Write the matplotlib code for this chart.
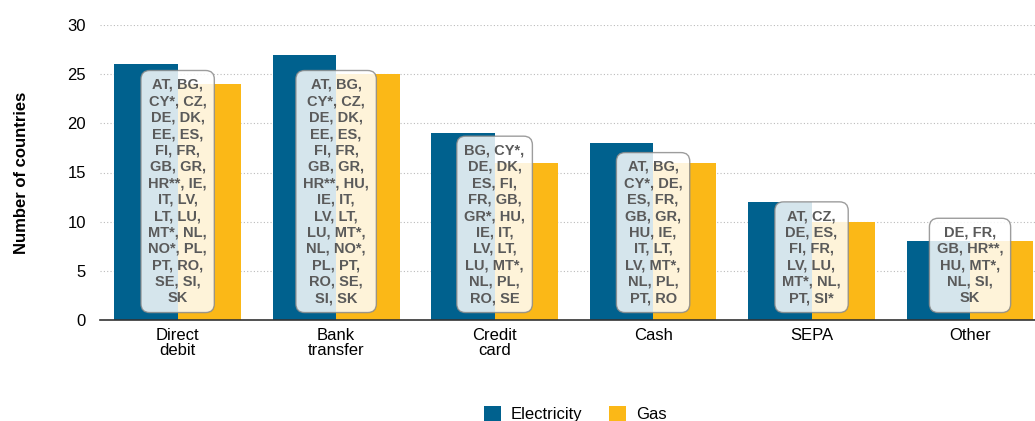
import matplotlib
matplotlib.use("Agg")
import matplotlib.pyplot as plt
from matplotlib import font_manager

categories = ["Direct\ndebit", "Bank\ntransfer", "Credit\ncard", "Cash", "SEPA", "Other"]
electricity = [26, 27, 19, 18, 12, 8]
gas = [24, 25, 16, 16, 10, 8]
box_texts = [
    "AT, BG,\nCY*, CZ,\nDE, DK,\nEE, ES,\nFI, FR,\nGB, GR,\nHR**, IE,\nIT, LV,\nLT, LU,\nMT*, NL,\nNO*, PL,\nPT, RO,\nSE, SI,\nSK",
    "AT, BG,\nCY*, CZ,\nDE, DK,\nEE, ES,\nFI, FR,\nGB, GR,\nHR**, HU,\nIE, IT,\nLV, LT,\nLU, MT*,\nNL, NO*,\nPL, PT,\nRO, SE,\nSI, SK",
    "BG, CY*,\nDE, DK,\nES, FI,\nFR, GB,\nGR*, HU,\nIE, IT,\nLV, LT,\nLU, MT*,\nNL, PL,\nRO, SE",
    "AT, BG,\nCY*, DE,\nES, FR,\nGB, GR,\nHU, IE,\nIT, LT,\nLV, MT*,\nNL, PL,\nPT, RO",
    "AT, CZ,\nDE, ES,\nFI, FR,\nLV, LU,\nMT*, NL,\nPT, SI*",
    "DE, FR,\nGB, HR**,\nHU, MT*,\nNL, SI,\nSK",
]
series_names = ["Electricity", "Gas"]

names = {f.name for f in font_manager.fontManager.ttflist}
fam = ["Liberation Sans Narrow", "Liberation Sans", "DejaVu Sans"]
fam = [f for f in fam if f in names] or ["DejaVu Sans"]
plt.rcParams["font.family"] = fam

c_el = "#00618E"
c_gas = "#FBB817"

fig = plt.figure(figsize=(10.35, 4.21), dpi=100)
ax = fig.add_axes([100/1035, 101/421, 935/1035, 295/421])

x = list(range(len(categories)))
w = 0.40
ax.bar([i - w/2 for i in x], electricity, width=w, color=c_el, label=series_names[0], zorder=2)
ax.bar([i + w/2 for i in x], gas, width=w, color=c_gas, label=series_names[1], zorder=2)

for i, t in enumerate(box_texts):
    ax.text(i, 1.5, t, ha="center", va="bottom", multialignment="center",
            fontsize=10.5, fontweight="bold", color="#5a5a5a", linespacing=1.22,
            zorder=5,
            bbox=dict(boxstyle="round,pad=0.5,rounding_size=0.6", facecolor="white",
                      edgecolor="#8a8a8a", linewidth=1.0, alpha=0.84),
            )

ax.set_xlim(-0.49, 5.41)
ax.set_ylim(0, 30)
ax.set_yticks([0, 5, 10, 15, 20, 25, 30])
ax.set_xticks(x)
ax.set_xticklabels(categories, fontsize=12, linespacing=1.0)
ax.tick_params(axis="x", length=0, pad=6)
ax.tick_params(axis="y", length=0, labelsize=12, pad=10)
ax.yaxis.grid(True, linestyle=(0, (1, 2)), color="#bbbbbb", linewidth=0.8, zorder=0)
ax.set_axisbelow(True)
for s in ["top", "right", "left"]:
    ax.spines[s].set_visible(False)
ax.spines["bottom"].set_color("#333333")
ax.spines["bottom"].set_linewidth(1.2)
ax.set_ylabel("Number of countries", fontsize=12, fontweight="bold", labelpad=28)

fig.legend(loc="center", bbox_to_anchor=(0.556, 7/421), ncol=2, frameon=False,
           fontsize=12, handlelength=1.0, handleheight=1.0, columnspacing=1.6,
           handletextpad=0.6)

fig.savefig("out.png", dpi=100)
